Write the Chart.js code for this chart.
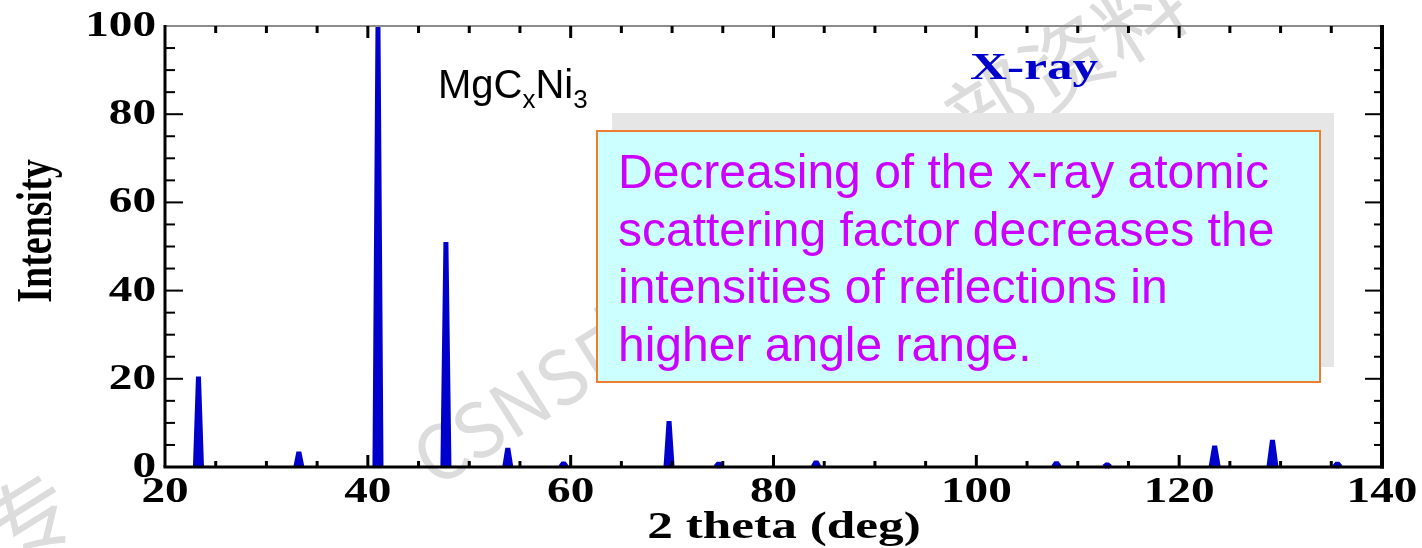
<!DOCTYPE html>
<html>
<head>
<meta charset="utf-8">
<script src="https://cdn.jsdelivr.net/npm/chart.js"></script>
<style>
  html, body { margin: 0; padding: 0; background: #fff; }
  #xrd { display: block; }
</style>
</head>
<body>
<canvas id="xrd" width="1422" height="548"></canvas>
<script>
// données lues sur le diagramme (2 theta en degrés, intensité relative)
// null = coupure entre deux pics
const twoTheta = [
  23.0, 23.3, 23.6, 23.6,
  32.9, 33.2, 33.5, 33.5,
  40.7, 41.0, 41.3, 41.3,
  47.4, 47.7, 48.0, 48.0,
  53.5, 53.8, 54.1, 54.1,
  59.0, 59.3, 59.6, 59.6,
  69.4, 69.7, 70.0, 70.0,
  74.3, 74.6, 74.9, 74.9,
  83.9, 84.2, 84.5, 84.5,
  107.6, 107.9, 108.2, 108.2,
  112.6, 112.9, 113.2, 113.2,
  123.15, 123.5, 123.85, 123.85,
  128.85, 129.2, 129.55, 129.55,
  135.3, 135.6, 135.9
];
const intensity = [
  0, 20.5, 0, null,
  0, 3.4, 0, null,
  0, 100, 0, null,
  0, 51, 0, null,
  0, 4.3, 0, null,
  0, 0.9, 0, null,
  0, 10.4, 0, null,
  0, 0.8, 0, null,
  0, 1.2, 0, null,
  0, 1.0, 0, null,
  0, 0.6, 0, null,
  0, 4.8, 0, null,
  0, 6.1, 0, null,
  0, 0.8, 0
];
const xTickLabels = [20, 40, 60, 80, 100, 120, 140];
const yTickLabels = [0, 20, 40, 60, 80, 100];
const xTitle = '2 theta (deg)';
const yTitle = 'Intensity';
const noteLines = [
  'Decreasing of the x-ray atomic',
  'scattering factor decreases the',
  'intensities of reflections in',
  'higher angle range.'
];

// la figure d'origine est étirée horizontalement
const STRETCH = 1.35;
const SERIF = '"Liberation Serif", "Times New Roman", serif';

function stretchedText(ctx, text, x, y, align) {
  ctx.save();
  ctx.translate(x, y);
  ctx.scale(STRETCH, 1);
  ctx.textAlign = align;
  ctx.fillText(text, 0, 0);
  ctx.restore();
}

// filigrane gris en arrière-plan
const watermark = {
  id: 'watermark',
  beforeDraw(chart) {
    const ctx = chart.ctx;
    ctx.save();
    ctx.fillStyle = '#fff';
    ctx.fillRect(0, 0, chart.width, chart.height);
    ctx.fillStyle = '#dcdcdc';
    ctx.textBaseline = 'middle';
    ctx.textAlign = 'left';
    ctx.translate(420, 465);
    ctx.rotate(-32 * Math.PI / 180);
    ctx.font = '75px "Noto Sans CJK SC"';
    ctx.fillText('CSNS', 0, 0);
    let w = ctx.measureText('CSNS').width;
    ctx.font = '88px "Noto Sans CJK SC"';
    ctx.fillText('中子散射内部资料', w, 0);
    ctx.restore();

    ctx.save();
    ctx.fillStyle = '#dcdcdc';
    ctx.textBaseline = 'middle';
    ctx.textAlign = 'center';
    ctx.translate(28, 518);
    ctx.rotate(-32 * Math.PI / 180);
    ctx.font = '88px "Noto Sans CJK SC"';
    ctx.fillText('专', 0, 0);
    ctx.restore();
  }
};

// cadre, graduations vers l'intérieur, textes et encadré
const decor = {
  id: 'decor',
  afterDatasetsDraw(chart) {
    const ctx = chart.ctx;
    const a = chart.chartArea;
    const sx = chart.scales.x;
    const sy = chart.scales.y;

    ctx.save();
    // cadre
    ctx.strokeStyle = '#8c8c8c';
    ctx.lineWidth = 2;
    ctx.beginPath(); ctx.moveTo(a.left, a.top); ctx.lineTo(a.right, a.top); ctx.stroke();
    ctx.strokeStyle = '#000';
    ctx.lineWidth = 3;
    ctx.beginPath(); ctx.moveTo(a.left - 1.5, a.bottom); ctx.lineTo(a.right + 2, a.bottom); ctx.stroke();
    ctx.beginPath(); ctx.moveTo(a.left, a.top - 1); ctx.lineTo(a.left, a.bottom); ctx.stroke();
    ctx.lineWidth = 4;
    ctx.beginPath(); ctx.moveTo(a.right, a.top - 1); ctx.lineTo(a.right, a.bottom + 1.5); ctx.stroke();

    // graduations x (bas et haut)
    ctx.lineWidth = 3;
    sx.ticks.forEach(t => {
      const px = sx.getPixelForValue(t.value);
      if (t.value === sx.min || t.value === sx.max) return;
      const major = t.value % 20 === 0;
      const len = major ? 12 : 6;
      ctx.beginPath(); ctx.moveTo(px, a.bottom); ctx.lineTo(px, a.bottom - len); ctx.stroke();
      const lenTop = major ? 12 : 7;
      ctx.beginPath(); ctx.moveTo(px, a.top); ctx.lineTo(px, a.top + lenTop); ctx.stroke();
    });
    // graduations y (gauche et droite)
    ctx.lineWidth = 2;
    sy.ticks.forEach(t => {
      const py = sy.getPixelForValue(t.value);
      if (t.value === sy.min || t.value === sy.max) return;
      const major = t.value % 20 === 0;
      ctx.beginPath(); ctx.moveTo(a.left, py); ctx.lineTo(a.left + (major ? 18 : 10), py); ctx.stroke();
      ctx.beginPath(); ctx.moveTo(a.right, py); ctx.lineTo(a.right - (major ? 17 : 8), py); ctx.stroke();
    });

    // étiquettes des graduations
    ctx.fillStyle = '#000';
    ctx.font = 'bold 35px ' + SERIF;
    ctx.textBaseline = 'middle';
    yTickLabels.forEach(v => {
      stretchedText(ctx, String(v), a.left - 9, sy.getPixelForValue(v) + 1, 'right');
    });
    ctx.textBaseline = 'alphabetic';
    xTickLabels.forEach(v => {
      stretchedText(ctx, String(v), sx.getPixelForValue(v), 502, 'center');
    });

    // titres des axes
    ctx.font = 'bold 38px ' + SERIF;
    stretchedText(ctx, xTitle, 784, 538, 'center');
    ctx.save();
    ctx.translate(51, 231);
    ctx.rotate(-Math.PI / 2);
    ctx.scale(1, STRETCH);
    ctx.textAlign = 'center';
    ctx.fillText(yTitle, 0, 0);
    ctx.restore();

    // X-ray
    ctx.fillStyle = '#0000cc';
    ctx.font = 'bold 38px ' + SERIF;
    stretchedText(ctx, 'X-ray', 970, 79, 'left');

    // MgCxNi3
    ctx.fillStyle = '#000';
    ctx.textAlign = 'left';
    let x = 438;
    const big = '40px "Liberation Sans", Arial, sans-serif';
    const small = '26px "Liberation Sans", Arial, sans-serif';
    [['MgC', big, 98], ['x', small, 108], ['Ni', big, 98], ['3', small, 108]].forEach(p => {
      ctx.font = p[1];
      ctx.fillText(p[0], x, p[2]);
      x += ctx.measureText(p[0]).width;
    });

    // encadré avec ombre
    ctx.fillStyle = '#e6e6e6';
    ctx.fillRect(612, 113, 722, 254);
    ctx.fillStyle = '#ccffff';
    ctx.fillRect(597, 131, 723, 251);
    ctx.strokeStyle = '#ed7d31';
    ctx.lineWidth = 2;
    ctx.strokeRect(597, 131, 723, 251);

    ctx.fillStyle = '#cc00ff';
    ctx.font = '48px "Liberation Sans", Arial, sans-serif';
    ctx.textAlign = 'left';
    noteLines.forEach((line, i) => {
      ctx.fillText(line, 618, 188 + i * 57.5);
    });
    ctx.restore();
  }
};

window.onload = () => {
  const canvas = document.getElementById('xrd');
  const points = twoTheta.map((t, i) => ({ x: t, y: intensity[i] }));

  new Chart(canvas, {
    type: 'line',
    data: {
      datasets: [{
        data: points,
        borderColor: '#0000cd',
        backgroundColor: '#0000cd',
        borderWidth: 5,
        borderJoinStyle: 'bevel',
        pointRadius: 0,
        tension: 0,
        spanGaps: false,
        fill: 'origin',
        clip: 6
      }]
    },
    options: {
      responsive: false,
      devicePixelRatio: 1,
      animation: false,
      layout: { padding: { left: 165, right: 40, top: 26, bottom: 81 } },
      scales: {
        x: {
          type: 'linear', min: 20, max: 140,
          ticks: { display: false, stepSize: 5 },
          grid: { display: false, drawTicks: false },
          border: { display: false }
        },
        y: {
          min: 0, max: 100,
          ticks: { display: false, stepSize: 5 },
          grid: { display: false, drawTicks: false },
          border: { display: false }
        }
      },
      plugins: {
        legend: { display: false },
        tooltip: { enabled: false }
      }
    },
    plugins: [watermark, decor]
  });
};
</script>
</body>
</html>
